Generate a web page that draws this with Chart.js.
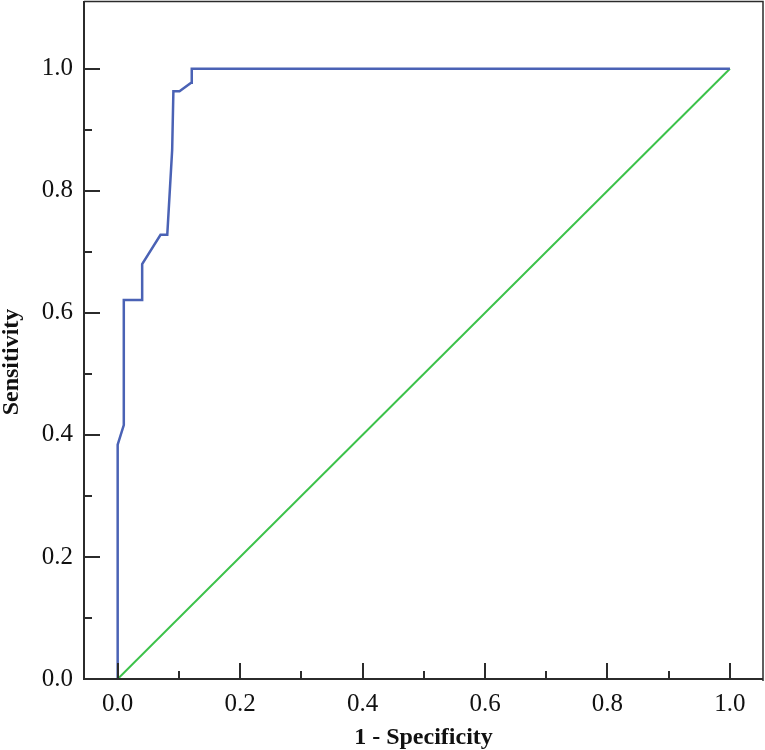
<!DOCTYPE html>
<html>
<head>
<meta charset="utf-8">
<script src="https://cdn.jsdelivr.net/npm/chart.js@4.4.0/dist/chart.umd.min.js"></script>
<style>
  html, body { margin: 0; padding: 0; background: #fff; }
  #c { display: block; }
</style>
</head>
<body>
<canvas id="c" width="765" height="750"></canvas>
<script>
// ROC curve points (1 - Specificity, Sensitivity)
const rocFpr = [0, 0, 0.010, 0.010, 0.040, 0.040, 0.070, 0.081, 0.089, 0.091, 0.101, 0.120, 0.121, 1.0];
const rocTpr = [0, 0.384, 0.416, 0.621, 0.621, 0.680, 0.728, 0.728, 0.867, 0.963, 0.963, 0.977, 1.0, 1.0];
// Reference (chance) line
const refX = [0, 1];
const refY = [0, 1];
// Tick values
const xTickValues = [0, 0.2, 0.4, 0.6, 0.8, 1.0];
const yTickValues = [0, 0.2, 0.4, 0.6, 0.8, 1.0];
const xMinorTicks = [0.1, 0.3, 0.5, 0.7, 0.9];
const yMinorTicks = [0.1, 0.3, 0.5, 0.7, 0.9];
const xTitle = '1 - Specificity';
const yTitle = 'Sensitivity';

const rocData = rocFpr.map((x, i) => ({ x: x, y: rocTpr[i] }));
const refData = refX.map((x, i) => ({ x: x, y: refY[i] }));

const axisColor = '#2b2b2b';
const serif = '"Liberation Serif", "Times New Roman", serif';

const framePlugin = {
  id: 'frameTicks',
  afterDatasetsDraw(chart) {
    const { ctx, chartArea: a, scales } = chart;
    ctx.save();
    ctx.strokeStyle = axisColor;
    // frame (top/right)
    ctx.lineWidth = 1.5;
    ctx.beginPath();
    ctx.moveTo(a.left, a.top + 0.5);
    ctx.lineTo(a.right, a.top + 0.5);
    ctx.lineTo(a.right, a.bottom + 2);
    ctx.stroke();
    // axes (left/bottom)
    ctx.lineWidth = 2;
    ctx.beginPath();
    ctx.moveTo(a.left, a.top);
    ctx.lineTo(a.left, a.bottom);
    ctx.lineTo(a.right, a.bottom);
    ctx.stroke();
    // ticks, pointing inward
    ctx.lineWidth = 2;
    ctx.beginPath();
    yTickValues.forEach(v => {
      const p = Math.round(scales.y.getPixelForValue(v));
      ctx.moveTo(a.left, p); ctx.lineTo(a.left + 16, p);
    });
    yMinorTicks.forEach(v => {
      const p = Math.round(scales.y.getPixelForValue(v));
      ctx.moveTo(a.left, p); ctx.lineTo(a.left + 8, p);
    });
    xTickValues.forEach(v => {
      const p = Math.round(scales.x.getPixelForValue(v));
      ctx.moveTo(p, a.bottom); ctx.lineTo(p, a.bottom - 16);
    });
    xMinorTicks.forEach(v => {
      const p = Math.round(scales.x.getPixelForValue(v));
      ctx.moveTo(p, a.bottom); ctx.lineTo(p, a.bottom - 8);
    });
    ctx.stroke();
    // y-axis title (sits a bit below the centre of the axis in the reference)
    ctx.fillStyle = '#111';
    ctx.font = 'bold 24px ' + serif;
    ctx.textAlign = 'center';
    ctx.textBaseline = 'middle';
    ctx.translate(12, 362);
    ctx.rotate(-Math.PI / 2);
    ctx.fillText(yTitle, 0, 0);
    ctx.restore();
  }
};

new Chart(document.getElementById('c'), {
  type: 'scatter',
  data: {
    datasets: [
      {
        label: 'ROC',
        data: rocData,
        showLine: true,
        borderColor: '#4a62b5',
        borderWidth: 2.5,
        pointRadius: 0,
        tension: 0,
        fill: false,
        order: 1
      },
      {
        label: 'Reference',
        data: refData,
        showLine: true,
        borderColor: '#3cc24a',
        borderWidth: 2,
        pointRadius: 0,
        tension: 0,
        fill: false,
        order: 2
      }
    ]
  },
  options: {
    responsive: false,
    animation: false,
    events: [],
    layout: { padding: { top: 1, right: 2, left: 0, bottom: 0 } },
    plugins: {
      legend: { display: false },
      tooltip: { enabled: false },
      title: { display: false }
    },
    scales: {
      x: {
        type: 'linear',
        min: -0.055,
        max: 1.054,
        grid: { display: false, drawTicks: false },
        border: { display: false },
        afterBuildTicks: s => { s.ticks = xTickValues.map(v => ({ value: v })); },
        afterFit: s => { s.height = 71; s.paddingLeft = 0; s.paddingRight = 0; },
        ticks: {
          padding: 10,
          color: '#111',
          font: { family: serif, size: 25 },
          callback: v => Number(v).toFixed(1),
          maxRotation: 0,
          autoSkip: false
        },
        title: {
          display: true,
          text: xTitle,
          color: '#111',
          font: { family: serif, size: 24, weight: 'bold', lineHeight: 1.0 },
          padding: { top: 0, bottom: 0 }
        }
      },
      y: {
        type: 'linear',
        min: 0,
        max: 1.111,
        grid: { display: false, drawTicks: false },
        border: { display: false },
        afterBuildTicks: s => { s.ticks = yTickValues.map(v => ({ value: v })); },
        afterFit: s => { s.width = 84; s.paddingTop = 0; s.paddingBottom = 0; },
        ticks: {
          padding: 11,
          color: '#111',
          font: { family: serif, size: 25 },
          callback: v => Number(v).toFixed(1),
          autoSkip: false
        },
        title: { display: false, text: yTitle }
      }
    }
  },
  plugins: [framePlugin]
});
</script>
</body>
</html>
